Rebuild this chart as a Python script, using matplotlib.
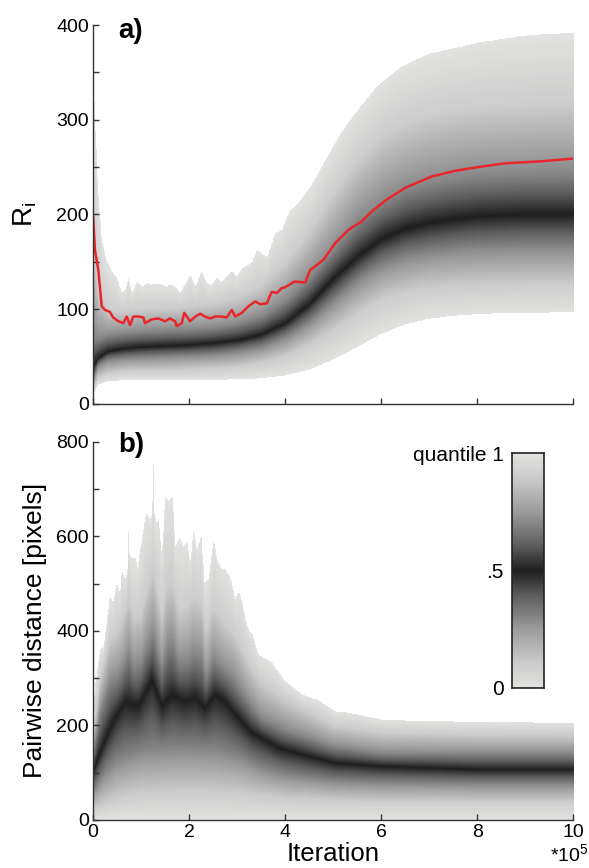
import numpy as np
import matplotlib
matplotlib.use('Agg')
import matplotlib.pyplot as plt
from matplotlib.colors import LinearSegmentedColormap

plt.rcParams['font.family'] = ['Liberation Sans', 'DejaVu Sans']

# quantile levels drawn in both fans
q_levels = [0.0, 0.1, 0.3, 0.5, 0.7, 0.9, 1.0]

# ---------------- panel a) R_i vs iteration (x in 1e5) ----------------
iter_a = [0, 0.1, 0.3, 0.6, 1, 1.5, 2, 2.5, 3, 3.5, 4, 4.5, 5, 5.5, 6, 6.5, 7, 7.5, 8, 9, 10]
ra_q00 = [10, 20, 24, 25, 25, 25, 25, 25, 26, 27, 30, 36, 47, 60, 74, 84, 90, 93, 95, 96, 97]
ra_q10 = [15, 28, 32, 34, 35, 35, 36, 37, 39, 43, 50, 62, 78, 95, 110, 118, 122, 124, 125, 126, 126]
ra_q30 = [25, 40, 46, 48, 49, 50, 51, 52, 55, 60, 70, 86, 108, 130, 146, 155, 160, 163, 165, 166, 166]
ra_q50 = [38, 48, 55, 58, 60, 61, 62, 64, 67, 73, 85, 105, 132, 155, 174, 185, 191, 195, 198, 200, 200]
ra_q70 = [70, 68, 72, 74, 76, 77, 78, 80, 84, 92, 108, 132, 162, 192, 212, 225, 232, 237, 240, 242, 243]
ra_q90 = [170, 120, 100, 98, 100, 101, 103, 106, 112, 125, 148, 182, 222, 258, 283, 297, 305, 310, 313, 316, 318]

ra_max_x = [0, 0.04, 0.11, 0.18, 0.28, 0.38, 0.49, 0.6, 0.67, 0.74, 0.81, 0.91, 1.01, 1.12,
            1.22, 1.33, 1.43, 1.53, 1.6, 1.71, 1.81, 1.92, 2.02, 2.13, 2.26, 2.37, 2.47, 2.58,
            2.68, 2.78, 2.89, 2.99, 3.1, 3.2, 3.31, 3.41, 3.51, 3.62, 3.72, 3.79, 3.93, 4.1,
            4.2, 4.52, 4.8, 5.15, 5.5, 5.9, 6.4, 7.0, 8.06, 8.96, 10]
ra_max = [350, 300, 219, 173, 152, 141, 133, 118, 120, 133, 117, 129, 124, 127,
          126, 127, 126, 124, 126, 124, 117, 127, 136, 124, 140, 127, 126, 133,
          129, 135, 140, 135, 143, 146, 150, 163, 159, 155, 170, 180, 184, 205,
          208, 229, 254, 286, 310, 335, 356, 370, 382, 389, 392]

# red line
mean_x = [0, 0.04, 0.11, 0.18, 0.25, 0.35, 0.42, 0.53, 0.63, 0.7, 0.77, 0.84, 0.94, 1.05,
          1.08, 1.22, 1.36, 1.5, 1.6, 1.71, 1.74, 1.85, 1.9, 2.02, 2.13, 2.23, 2.33, 2.44,
          2.54, 2.68, 2.78, 2.89, 2.96, 3.1, 3.24, 3.38, 3.48, 3.62, 3.72, 3.83, 3.93, 4.0,
          4.2, 4.42, 4.52, 4.8, 5.05, 5.33, 5.58, 5.85, 6.1, 6.5, 7.05, 7.54, 8.02, 8.58, 9.3, 10]
mean_y = [198, 162, 141, 103, 99, 97, 91, 87, 85, 92, 83, 92, 92, 91,
          85, 89, 90, 87, 90, 87, 82, 85, 96, 87, 92, 95, 92, 90,
          92, 92, 91, 99, 92, 96, 103, 108, 105, 106, 118, 117, 122, 123,
          129, 128, 141, 152, 170, 184, 192, 205, 215, 228, 240, 246, 250, 254, 256, 259]

# ---------------- panel b) pairwise distance ----------------
rb_q00_x = [0, 10]
rb_q00 = [0, 0]
rb_q10_x = [0, 0.5, 1, 2, 3, 4, 5, 6, 10]
rb_q10 = [22, 45, 55, 60, 55, 45, 40, 38, 38]
rb_q30_x = [0, 0.25, 0.5, 1, 1.5, 2, 2.5, 3, 3.5, 4, 5, 6, 8, 10]
rb_q30 = [60, 100, 125, 145, 150, 150, 148, 135, 110, 95, 82, 78, 76, 76]
rb_upper_x = [0, 0.15, 0.35, 0.5, 0.6, 0.74, 0.85, 1.0, 1.1, 1.25, 1.43, 1.55, 1.65, 1.8,
              1.96, 2.09, 2.25, 2.35, 2.51, 2.7, 2.9, 3.1, 3.3, 3.5, 4, 5, 6, 8, 10]
rb_q70 = [140, 230, 290, 300, 315, 350, 320, 330, 360, 390, 320, 370, 370, 330,
          335, 350, 345, 300, 340, 320, 300, 270, 240, 215, 190, 155, 140, 140, 140]
rb_q90 = [180, 300, 380, 400, 420, 470, 430, 440, 480, 530, 430, 500, 500, 440,
          450, 470, 460, 400, 450, 420, 400, 360, 320, 290, 255, 200, 185, 180, 180]
rb_med_x = [0, 0.04, 0.25, 0.46, 0.67, 0.94, 1.22, 1.43, 1.64, 1.92, 2.12, 2.33, 2.54,
            2.75, 2.99, 3.3, 3.58, 3.86, 4.35, 5.04, 6.0, 8.0, 10]
rb_med = [100, 113, 169, 216, 250, 240, 296, 240, 264, 250, 257, 237, 264,
          250, 219, 184, 169, 152, 138, 120, 113, 106, 106]
rb_max_x = [0, 0.05, 0.146, 0.22, 0.35, 0.42, 0.49, 0.56, 0.6, 0.67, 0.72, 0.74, 0.76, 0.81,
            0.88, 0.93, 1.01, 1.1, 1.19, 1.23, 1.25, 1.27, 1.31, 1.36, 1.43, 1.5, 1.57, 1.65,
            1.71, 1.8, 1.88, 1.96, 2.02, 2.09, 2.16, 2.25, 2.32, 2.4, 2.51, 2.58, 2.68, 2.75,
            2.82, 2.89, 2.96, 3.03, 3.1, 3.17, 3.24, 3.31, 3.44, 3.72, 4.0, 4.35, 4.7, 5.04,
            5.35, 6.0, 6.9, 10]
rb_max = [240, 290, 360, 366, 473, 459, 501, 480, 526, 508, 530, 642, 560, 554,
          554, 533, 593, 649, 635, 650, 758, 650, 628, 635, 557, 681, 674, 684,
          578, 596, 578, 586, 543, 614, 571, 600, 501, 508, 593, 550, 529, 529,
          518, 501, 466, 483, 459, 423, 402, 392, 349, 332, 293, 265, 252, 229,
          226, 212, 208, 205]

# gray scale: light at the extreme quantiles, dark at the median
qcmap = LinearSegmentedColormap.from_list('qgray', [
    (0.0, '#e2e2e0'), (0.1, '#cdcdcd'), (0.25, '#9c9c9c'), (0.4, '#5a5a5a'),
    (0.5, '#1e1e1e'), (0.6, '#5a5a5a'), (0.75, '#9c9c9c'), (0.9, '#cdcdcd'), (1.0, '#e2e2e0')])


def draw_fan(ax, curves, ymax):
    # each pixel column gets the quantile of its height
    xr = np.linspace(0, 10, 1200)
    yr = np.linspace(0, ymax, 1000)
    Y = np.vstack([np.interp(xr, cx, cy) for cx, cy in curves])
    img = np.full((len(yr), len(xr)), np.nan)
    for j in range(len(xr)):
        col = Y[:, j]
        inside = (yr >= col[0]) & (yr <= col[-1])
        img[inside, j] = np.interp(yr[inside], col, q_levels)
    ax.imshow(img, extent=[0, 10, 0, ymax], origin='lower', aspect='auto',
              cmap=qcmap, vmin=0, vmax=1, interpolation='nearest')


def style_axes(ax):
    for s in ['top', 'right']:
        ax.spines[s].set_visible(False)
    for s in ['left', 'bottom']:
        ax.spines[s].set_color('#333333')
        ax.spines[s].set_linewidth(1.0)
    ax.tick_params(which='both', direction='in', length=4, width=1, color='#333333',
                   labelsize=14, pad=3)
    ax.set_xlim(0, 10)
    ax.set_xticks([0, 2, 4, 6, 8, 10])


fig = plt.figure(figsize=(5.89, 8.68), dpi=100)
ax1 = fig.add_axes([0.158, 0.535, 0.815, 0.436])
ax2 = fig.add_axes([0.158, 0.0553, 0.815, 0.4357])

# panel a
draw_fan(ax1, [(iter_a, ra_q00), (iter_a, ra_q10), (iter_a, ra_q30), (iter_a, ra_q50),
               (iter_a, ra_q70), (iter_a, ra_q90), (ra_max_x, ra_max)], 400)
ax1.plot(mean_x, mean_y, color='#e8262b', lw=1.8)
style_axes(ax1)
ax1.set_ylim(0, 400)
ax1.set_yticks([0, 100, 200, 300, 400])
ax1.set_yticks([50, 150, 250, 350], minor=True)
ax1.set_xticklabels([])
ax1.set_ylabel('R$_\\mathregular{i}$', fontsize=20)
ax1.yaxis.set_label_coords(-0.112, 0.5)

# panel b
draw_fan(ax2, [(rb_q00_x, rb_q00), (rb_q10_x, rb_q10), (rb_q30_x, rb_q30), (rb_med_x, rb_med),
               (rb_upper_x, rb_q70), (rb_upper_x, rb_q90), (rb_max_x, rb_max)], 800)
style_axes(ax2)
ax2.set_ylim(0, 800)
ax2.set_yticks([0, 200, 400, 600, 800])
ax2.set_yticks([100, 300, 500, 700], minor=True)
ax2.set_xlabel('Iteration', fontsize=18.5)
ax2.xaxis.set_label_coords(0.5, -0.057)
ax2.set_ylabel('Pairwise distance [pixels]', fontsize=19)
ax2.yaxis.set_label_coords(-0.096, 0.5)
ax2.annotate('*10$^\\mathregular{5}$', xy=(10, 0), xycoords=('data', 'axes fraction'),
             xytext=(-3, -25), textcoords='offset points', ha='center', va='center', fontsize=14)

fig.text(0.200, 0.964, 'a)', fontsize=20, fontweight='bold', va='center')
fig.text(0.200, 0.487, 'b)', fontsize=20, fontweight='bold', va='center')

# quantile colour bar
cax = fig.add_axes([0.869, 0.2074, 0.054, 0.2707])
grad = np.linspace(0, 1, 256)[:, None]
cax.imshow(grad, cmap=qcmap, aspect='auto', origin='lower', extent=[0, 1, 0, 1])
cax.set_xticks([])
cax.set_yticks([0, 0.5, 1])
cax.set_yticklabels(['0', '.5', 'quantile 1'])
cax.tick_params(length=0, labelsize=15, pad=6)
for s in cax.spines.values():
    s.set_linewidth(1.2)
    s.set_color('#222222')

fig.savefig('out.png', dpi=100)
